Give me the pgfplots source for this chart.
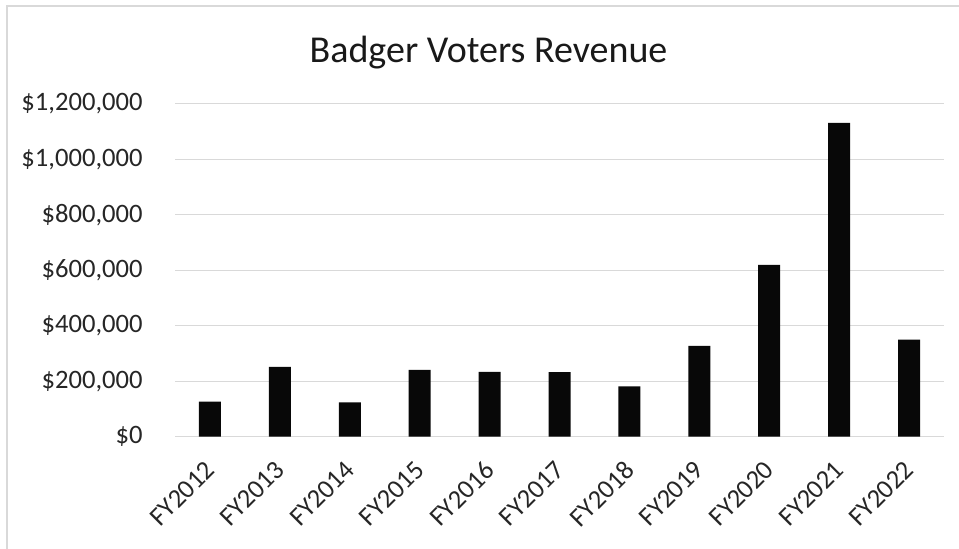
\documentclass[border=0pt]{standalone}
\usepackage{pgfplots}
\pgfplotsset{compat=1.18}
\usepackage{fontspec}
\setmainfont{Carlito}
\definecolor{gridgray}{HTML}{D9D9D9}
\definecolor{framegray}{HTML}{D9D9D9}
\begin{document}
\begin{tikzpicture}
\useasboundingbox (0,0) rectangle (479.5bp,274.5bp);
% outer chart frame (only left and top edges fall inside the picture)
\draw[framegray, line width=0.6bp] (3.5bp,-10bp) -- (3.5bp,271.5bp) -- (490bp,271.5bp);
\node[anchor=base, font=\fontsize{19bp}{22bp}\selectfont, text=black!90] at (244.25bp,243.3bp) {Badger Voters Revenue};
\begin{axis}[
    at={(87.5bp,56.15bp)}, anchor=south west,
    scale only axis,
    width=384.5bp, height=166.5bp,
    ybar, bar width=11bp,
    xmin=-0.5, xmax=10.5,
    ymin=0, ymax=1200000,
    enlargelimits=false,
    xtick={0,...,10},
    xticklabels={FY2012,FY2013,FY2014,FY2015,FY2016,FY2017,FY2018,FY2019,FY2020,FY2021,FY2022},
    ytick={0,200000,400000,600000,800000,1000000,1200000},
    yticklabels={{\$0},{\$200,000},{\$400,000},{\$600,000},{\$800,000},{\$1,000,000},{\$1,200,000}},
    scaled y ticks=false,
    axis line style={draw=none},
    major tick length=0pt,
    ymajorgrids,
    grid style={gridgray, line width=0.6bp},
    tick label style={font=\fontsize{13.3bp}{16bp}\selectfont, text=black!85},
    yticklabel style={anchor=east, inner sep=0pt, xshift=-16bp},
    xticklabel style={xshift=-3bp, yshift=-11bp, rotate=45, anchor=north east, inner sep=0pt},
]
\addplot[fill=black!97, draw=none] table {
x y
0 126000
1 252000
2 124000
3 241000
4 234000
5 233000
6 181000
7 327000
8 619000
9 1131000
10 350000
};
\end{axis}
\end{tikzpicture}
\end{document}
